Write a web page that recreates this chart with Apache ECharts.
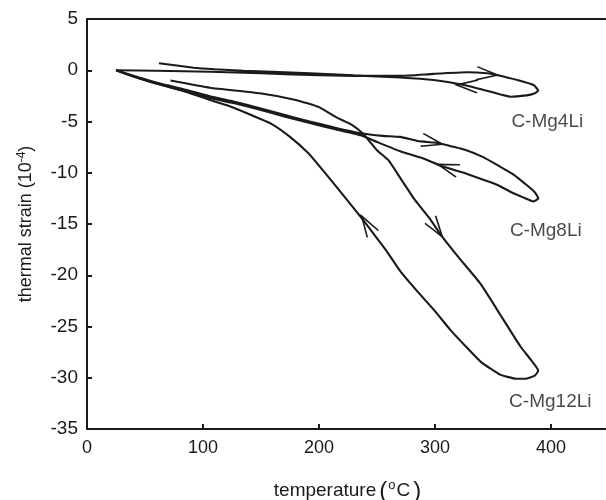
<!DOCTYPE html>
<html>
<head>
<meta charset="utf-8">
<script src="https://cdn.jsdelivr.net/npm/echarts@6/dist/echarts.min.js"></script>
<style>
  html, body { margin: 0; padding: 0; background: #fff; }
  #chart { width: 606px; height: 500px; }
</style>
</head>
<body>
<div id="chart"></div>
<script>
// [temperature (°C), thermal strain (1e-4)]
const mg4Li = [
  [25, 0], [60, -0.05], [106, -0.14], [150, -0.3], [192, -0.46], [230, -0.55],
  [270, -0.55], [299, -0.35], [328, -0.2], [345, -0.3], [353, -0.46], [371, -0.95],
  [385, -1.44], [389, -2.0], [385, -2.3], [379, -2.45], [365, -2.58], [348, -2.1],
  [325, -1.44], [299, -0.95], [270, -0.7], [230, -0.5], [192, -0.3], [160, -0.15],
  [135, -0.05], [110, 0.1], [92, 0.25], [62, 0.68],
];
const mg8Li = [
  [25, 0], [45, -0.7], [63, -1.3], [85, -1.9], [106, -2.55], [128, -3.1],
  [149, -3.7], [170, -4.35], [192, -5.0], [214, -5.6], [236, -6.15], [255, -6.4],
  [270, -6.5], [285, -6.9], [299, -7.05], [306, -7.2], [327, -7.8], [342, -8.5],
  [356, -9.4], [368, -10.2], [379, -11.2], [386, -11.9], [389, -12.5], [385, -12.8],
  [376, -12.4], [365, -11.85], [354, -11.2], [342, -10.7], [325, -10.0], [307, -9.4],
  [290, -8.6], [270, -7.9], [250, -7.0], [236, -6.35], [214, -5.75], [192, -5.15],
  [170, -4.5], [149, -3.85], [128, -3.25], [106, -2.7], [85, -2.05], [63, -1.4],
  [45, -0.8], [25, 0],
];
const mg12Li = [
  [72, -1.0], [106, -1.7], [149, -2.25], [180, -2.9], [200, -3.6], [215, -4.6],
  [228, -5.3], [238, -6.2], [250, -7.8], [260, -8.8], [270, -10.5], [283, -12.7],
  [295, -14.4], [306, -16.2], [320, -18.2], [339, -20.8], [356, -23.8], [366, -25.6],
  [374, -27], [383, -28.3], [389, -29.3], [386, -29.8], [378, -30.1], [370, -30.1],
  [362, -29.9], [356, -29.7], [340, -28.5], [327, -27], [313, -25.3], [300, -23.5],
  [285, -21.6], [270, -19.6], [258, -17.6], [248, -16.1], [238, -14.6], [221, -12.2],
  [200, -9.3], [190, -8.0], [175, -6.5], [160, -5.3], [140, -4.3], [120, -3.4],
  [106, -2.9], [85, -2.1], [63, -1.4], [40, -0.6], [25, 0],
];

// arrow heads: [T, strain, direction in degrees]
const mg4LiArrows = [[345, -0.38, -5], [327.6, -1.51, 176]];
const mg8LiArrows = [[297.6, -7.0, -12], [311.2, -9.5, 162]];
const mg12LiArrows = [[301.1, -15.4, -55], [241.6, -15.1, 122]];

// curve labels: [text, T, strain]
const curveLabels = [
  ['C-Mg4Li', 396.8, -5.05],
  ['C-Mg8Li', 395.5, -15.7],
  ['C-Mg12Li', 399.4, -32.3],
];

const xTicks = [0, 100, 200, 300, 400];

const INK = '#1a1a1a';
const FONT = '"Liberation Sans", Arial, Helvetica, sans-serif';

function arrowPoints(list) {
  return list.map(([t, s, deg]) => ({
    coord: [t, s],
    symbol: 'path://M0,0L20,7L0,14',
    symbolSize: [21, 13],
    symbolRotate: deg,
    itemStyle: { color: 'none', borderColor: INK, borderWidth: 1.9 },
    label: { show: false },
  }));
}

function loopSeries(name, data, arrows) {
  return {
    name,
    type: 'line',
    data,
    showSymbol: false,
    smooth: 0.15,
    silent: true,
    lineStyle: { color: INK, width: 2.1 },
    markPoint: { silent: true, animation: false, data: arrowPoints(arrows) },
  };
}

const chart = echarts.init(document.getElementById('chart'));
chart.setOption({
  animation: false,
  textStyle: { fontFamily: FONT },
  grid: { left: 87, top: 19, width: 522, height: 410, containLabel: false, outerBoundsMode: 'none' },
  xAxis: [
    {
      type: 'value',
      min: 0,
      max: 450,
      interval: 100,
      axisLine: { onZero: false, lineStyle: { color: INK, width: 2 } },
      axisTick: { inside: true, length: 5, lineStyle: { color: INK, width: 2 } },
      splitLine: { show: false },
      axisLabel: {
        color: INK,
        fontSize: 18,
        margin: 10,
        showMaxLabel: false,
        formatter: (v) => (xTicks.includes(v) ? String(v) : ''),
      },
      name: '{t|temperature}{p|(}{o|o}{t|C}{p|)}',
      nameLocation: 'middle',
      nameGap: 50,
      nameTextStyle: {
        rich: {
          t: { fontSize: 19, color: INK, fontFamily: FONT },
          p: { fontSize: 24, color: INK, fontFamily: FONT, padding: [0, 1, 0, 3] },
          o: { fontSize: 13, color: INK, fontFamily: FONT, verticalAlign: 'top', padding: [0, 1, 6, 0] },
        },
      },
    },
    {
      type: 'value',
      position: 'top',
      min: 0,
      max: 450,
      axisLine: { onZero: false, lineStyle: { color: INK, width: 2 } },
      axisTick: { show: false },
      axisLabel: { show: false },
      splitLine: { show: false },
    },
  ],
  yAxis: {
    type: 'value',
    min: -35,
    max: 5,
    interval: 5,
    axisLine: { onZero: false, lineStyle: { color: INK, width: 2 } },
    axisTick: { inside: true, length: 5, lineStyle: { color: INK, width: 2 } },
    splitLine: { show: false },
    axisLabel: { color: INK, fontSize: 19, margin: 9 },
    name: '{t|thermal strain (10}{s|-4}{t|)}',
    nameLocation: 'middle',
    nameRotate: 90,
    nameGap: 51,
    nameTextStyle: {
      rich: {
        t: { fontSize: 18, color: INK, fontFamily: FONT },
        s: { fontSize: 12, color: INK, fontFamily: FONT, verticalAlign: 'top', padding: [0, 0, 8, 0] },
      },
    },
  },
  series: [
    loopSeries('C-Mg4Li', mg4Li, mg4LiArrows),
    loopSeries('C-Mg8Li', mg8Li, mg8LiArrows),
    loopSeries('C-Mg12Li', mg12Li, mg12LiArrows),
    {
      name: 'labels',
      type: 'scatter',
      silent: true,
      symbolSize: 0,
      data: curveLabels.map(([text, t, s]) => ({ value: [t, s], name: text })),
      label: {
        show: true,
        position: 'inside',
        formatter: (p) => p.name,
        color: INK,
        fontSize: 19,
        fontFamily: FONT,
      },
    },
  ],
});
</script>
</body>
</html>
